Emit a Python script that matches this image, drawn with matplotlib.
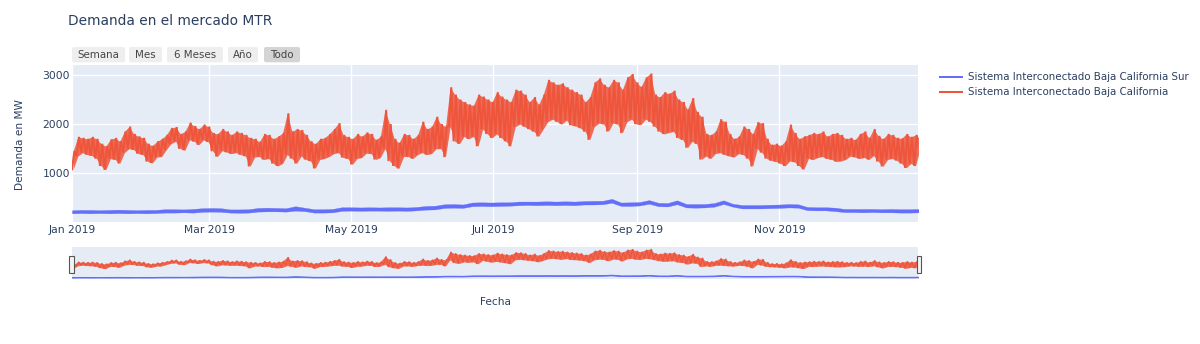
import numpy as np
import pandas as pd
import matplotlib
matplotlib.use("Agg")
import matplotlib.pyplot as plt
from matplotlib.patches import FancyBboxPatch, Rectangle
from matplotlib.lines import Line2D

# ---------------- data ----------------
titulo = "Demanda en el mercado MTR"
serie_sur = "Sistema Interconectado Baja California Sur"
serie_bc = "Sistema Interconectado Baja California"
botones = ["Semana", "Mes", "6 Meses", "Año", "Todo"]
ticks_fecha = ["2019-01-01", "2019-03-01", "2019-05-01", "2019-07-01", "2019-09-01", "2019-11-01"]
ticks_texto = ["Jan 2019", "Mar 2019", "May 2019", "Jul 2019", "Sep 2019", "Nov 2019"]
yticks = [1000, 2000, 3000]

# Baja California: daily peak / trough every 2 days starting 2019-01-01
picos_bc = [1450, 1740, 1720, 1700, 1740, 1700, 1600, 1550, 1690, 1720, 1650, 1850, 1950, 1800, 1750,
            1720, 1600, 1560, 1650, 1700, 1780, 1920, 1940, 1800, 1850, 2030, 1960, 1900, 1990, 1950,
            1820, 1800, 1900, 1850, 1780, 1850, 1820, 1780, 1720, 1700, 1640, 1800, 1780, 1700, 1750,
            1820, 2220, 1850, 1900, 1880, 1780, 1650, 1600, 1700, 1720, 1800, 1900, 2020, 1780, 1740,
            1700, 1800, 1750, 1830, 1800, 1680, 1750, 2290, 2000, 1700, 1620, 1800, 1780, 1700, 1780,
            2050, 1900, 1950, 2150, 2000, 1950, 2750, 2600, 2500, 2450, 2400, 2380, 2600, 2560, 2500,
            2450, 2650, 2560, 2500, 2450, 2700, 2680, 2600, 2450, 2550, 2400, 2600, 2900, 2850, 2800,
            2830, 2750, 2700, 2650, 2600, 2450, 2550, 2850, 2930, 2800, 2750, 2900, 2850, 2700, 2950,
            3020, 2850, 2760, 2950, 3030, 2600, 2550, 2650, 2620, 2680, 2500, 2450, 2300, 2530, 2250,
            2150, 1800, 1780, 1850, 2100, 2050, 1800, 1700, 1750, 1950, 1900, 1800, 2040, 2020, 1700,
            1580, 1600, 1560, 1650, 1990, 1820, 1700, 1750, 1780, 1820, 1800, 1850, 1750, 1800, 1820,
            1780, 1700, 1720, 1680, 1800, 1850, 1720, 1900, 1760, 1700, 1800, 1780, 1720, 1710, 1800,
            1740, 1780, 1700]
valles_bc = [1080, 1350, 1420, 1380, 1360, 1300, 1150, 1070, 1300, 1280, 1200, 1420, 1500, 1480, 1400,
             1380, 1240, 1210, 1330, 1340, 1480, 1600, 1650, 1500, 1470, 1680, 1650, 1580, 1680, 1640,
             1450, 1340, 1460, 1430, 1400, 1420, 1380, 1350, 1140, 1330, 1340, 1280, 1300, 1200, 1150,
             1200, 1380, 1300, 1200, 1350, 1280, 1250, 1100, 1280, 1300, 1340, 1400, 1420, 1320, 1300,
             1180, 1300, 1320, 1410, 1400, 1280, 1320, 1500, 1250, 1150, 1100, 1340, 1340, 1300, 1380,
             1420, 1380, 1400, 1500, 1500, 1330, 1950, 1650, 1600, 1750, 1700, 1750, 1550, 1900, 1800,
             1720, 1800, 1720, 1650, 1550, 1950, 2000, 1950, 1900, 1850, 1750, 1900, 2050, 2100, 2050,
             2000, 2080, 1980, 1960, 1920, 1850, 1680, 1950, 2020, 2000, 1850, 2020, 2000, 1820, 2050,
             2100, 2000, 1990, 2100, 2050, 1950, 1850, 1800, 1830, 1850, 1720, 1680, 1520, 1650, 1600,
             1280, 1350, 1300, 1400, 1420, 1380, 1350, 1330, 1400, 1380, 1300, 1140, 1500, 1420, 1300,
             1260, 1240, 1200, 1150, 1250, 1230, 1150, 1080, 1300, 1280, 1320, 1340, 1300, 1280, 1240,
             1250, 1280, 1350, 1330, 1300, 1320, 1280, 1360, 1240, 1140, 1280, 1300, 1260, 1200, 1110,
             1200, 1150, 1500]

# Baja California Sur: band (low / high) every 4 days starting 2019-01-01
sur_bajo = [185, 190, 185, 190, 185, 190, 185, 190, 185, 190, 200, 200, 205, 200, 215, 220, 215, 200,
            195, 200, 220, 225, 225, 220, 240, 230, 200, 200, 205, 235, 240, 235, 240, 240, 235, 240,
            235, 245, 260, 265, 295, 300, 295, 330, 335, 330, 335, 340, 350, 355, 350, 355, 350, 355,
            350, 365, 365, 370, 400, 335, 335, 345, 380, 330, 325, 370, 305, 300, 305, 320, 375, 320,
            285, 285, 285, 290, 295, 305, 300, 250, 245, 245, 230, 210, 210, 205, 210, 205, 205, 200,
            200, 205]
sur_alto = [250, 255, 255, 250, 255, 260, 255, 250, 255, 255, 270, 270, 265, 275, 290, 295, 290, 265,
            265, 270, 295, 300, 295, 290, 330, 300, 270, 270, 275, 310, 310, 305, 310, 305, 310, 310,
            305, 315, 335, 340, 370, 375, 365, 405, 410, 405, 410, 410, 425, 425, 425, 430, 425, 430,
            425, 435, 440, 440, 480, 405, 410, 415, 455, 400, 395, 450, 375, 375, 375, 395, 450, 380,
            355, 355, 355, 360, 365, 375, 370, 315, 310, 310, 300, 275, 275, 275, 275, 270, 275, 270,
            270, 275]

# ---------------- style ----------------
AZUL = "#636EFA"
ROJO = "#EF553B"
FONDO = "#E5ECF6"
TXT = "#2a3f5f"
W, H = 1200, 344
PT = 0.72  # px -> pt at 100 dpi

fig = plt.figure(figsize=(W / 100, H / 100), dpi=100)
fig.patch.set_facecolor("white")


def fx(p):
    return p / W


def fy(p):
    return 1 - p / H


L, R, T, B = 72, 918.3, 65, 221.7
ax = fig.add_axes([fx(L), fy(B), (R - L) / W, (B - T) / H])
ax.set_facecolor(FONDO)

fechas_bc = pd.date_range("2019-01-01", periods=len(picos_bc), freq="2D")
x_bc = np.empty(2 * len(fechas_bc), dtype="datetime64[ns]")
x_bc[0::2] = fechas_bc.values
x_bc[1::2] = (fechas_bc + pd.Timedelta(days=1)).values
y_bc = np.empty(2 * len(fechas_bc))
y_bc[0::2] = valles_bc
y_bc[1::2] = picos_bc

fechas_sur = pd.date_range("2019-01-01", periods=len(sur_bajo), freq="4D")

x0 = pd.Timestamp("2019-01-01")
x1 = pd.Timestamp("2019-12-30 17:00")
ylim = (15, 3203)


def dibuja(a, lw, sur_lw):
    a.fill_between(fechas_sur, sur_bajo, sur_alto, color=AZUL, lw=sur_lw, zorder=2)
    a.fill_between(fechas_bc + pd.Timedelta(hours=12), valles_bc, picos_bc, color=ROJO,
                   alpha=0.85, lw=0, zorder=3)
    a.plot(x_bc, y_bc, color=ROJO, lw=lw, solid_joinstyle="miter", zorder=4)
    a.set_xlim(x0, x1)
    a.set_ylim(*ylim)
    for s in a.spines.values():
        s.set_visible(False)


dibuja(ax, 1.44, 0.2)
ax.set_xticks(pd.to_datetime(ticks_fecha))
ax.set_xticklabels(ticks_texto)
ax.set_yticks(yticks)
ax.set_yticklabels([str(v) for v in yticks])
ax.tick_params(length=0, labelsize=10.7 * PT, colors=TXT)
ax.tick_params(axis="x", pad=2.5)
ax.tick_params(axis="y", pad=1.5)
ax.grid(True, color="white", lw=1)
ax.set_axisbelow(True)

# range slider
ax2 = fig.add_axes([fx(71.7), fy(279.3), (918.3 - 71.7) / W, (279.3 - 247.3) / H])
ax2.set_facecolor(FONDO)
dibuja(ax2, 1.0, 0.6)
ax2.set_xticks([])
ax2.set_yticks([])

# texts
fig.text(fx(68), fy(20.7), titulo, ha="left", va="center", fontsize=13.8 * PT, color=TXT)
fig.text(fx(20), fy(145), "Demanda en MW", rotation=90, ha="center", va="center",
         fontsize=10.5 * PT, color=TXT)
fig.text(fx(495.5), fy(301.7), "Fecha", ha="center", va="center", fontsize=10.5 * PT, color=TXT)

# overlay in pixel coordinates
ov = fig.add_axes([0, 0, 1, 1], zorder=5)
ov.set_xlim(0, W)
ov.set_ylim(H, 0)
ov.axis("off")

btn_x = [(72, 125), (129, 162), (167, 223), (228, 258), (264, 300)]
for (a, b), lab in zip(btn_x, botones):
    fc = "#d4d4d4" if lab == "Todo" else "#eeeeee"
    ov.add_patch(FancyBboxPatch((a, 47), b - a, 15.3, boxstyle="round,pad=0,rounding_size=2",
                                fc=fc, ec="none"))
    ov.text((a + b) / 2, 54.6, lab, ha="center", va="center", fontsize=10.2 * PT, color="#444444")

# slider handles
for hx in (69.2, 916.5):
    ov.add_patch(Rectangle((hx, 256), 4.3, 16.7, fc="#f4f4f4", ec="#555555", lw=0.8))

# legend
for yy, col, lab in ((77, AZUL, serie_sur), (92.3, ROJO, serie_bc)):
    ov.add_line(Line2D([940, 962], [yy, yy], color=col, lw=1.44))
    ov.text(968, yy, lab, ha="left", va="center", fontsize=10.25 * PT, color=TXT)

fig.savefig("out.png", dpi=100, facecolor="white")
